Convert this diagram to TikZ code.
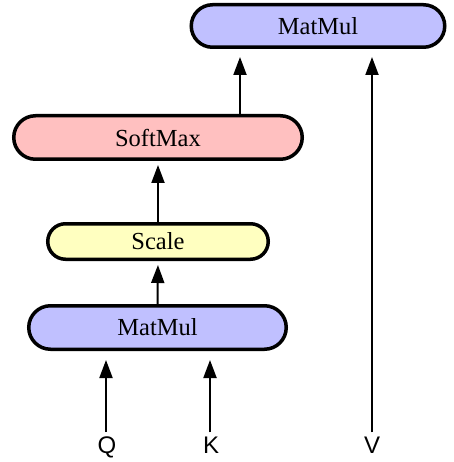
\documentclass[tikz,border=0pt]{standalone}
\usepackage{fontspec}
\setmainfont{Liberation Serif}
\newfontfamily\labelfont{Liberation Sans}
\usetikzlibrary{shapes.misc,arrows.meta}

\definecolor{opblue}{HTML}{C0C0FF}
\definecolor{oppink}{HTML}{FFC0C0}
\definecolor{opyellow}{HTML}{FFFFC0}

\tikzset{
  opbox/.style={rounded rectangle, draw=black, line width=3.5pt,
    inner sep=0pt, font=\fontsize{24.5}{28}\selectfont},
  flow/.style={line width=2pt, -{Triangle[length=18pt,width=13pt]}},
  inlabel/.style={inner sep=0pt, anchor=base, font=\labelfont\fontsize{24}{28}\selectfont}
}

\begin{document}
\begin{tikzpicture}[x=1pt,y=-1pt]
  \useasboundingbox (0,0) rectangle (453,462);

  % operation blocks
  \node[opbox, fill=opblue, minimum width=253.5pt, minimum height=42.5pt] (mmtop) at (318,26) {MatMul};
  \node[opbox, fill=oppink, minimum width=288.5pt, minimum height=43.5pt] (soft) at (158,137.5) {SoftMax};
  \node[opbox, fill=opyellow, minimum width=220.5pt, minimum height=35.5pt] (scale) at (158,241.5) {Scale};
  \node[opbox, fill=opblue, minimum width=257.5pt, minimum height=43.5pt] (mmbot) at (157.5,327.5) {MatMul};

  % inputs
  \node[inlabel] (q) at (107,453) {Q};
  \node[inlabel] (k) at (211,453) {K};
  \node[inlabel] (v) at (372,453) {V};

  % columns of the off-centre connectors
  \coordinate (cq) at (106,0);
  \coordinate (ck) at (210,0);
  \coordinate (cv) at (372,0);
  \coordinate (cs) at (240,0);

  % connectors
  \draw[flow, shorten <=4pt, shorten >=9pt] (q.north -| cq) -- (mmbot.south -| cq);
  \draw[flow, shorten <=4pt, shorten >=9pt] (k.north -| ck) -- (mmbot.south -| ck);
  \draw[flow, shorten <=4pt, shorten >=8pt] (v.north -| cv) -- (mmtop.south -| cv);
  \draw[flow, shorten >=4pt] (mmbot.north) -- (scale.south);
  \draw[flow, shorten >=4pt] (scale.north) -- (soft.south);
  \draw[flow, shorten >=8pt] (soft.north -| cs) -- (mmtop.south -| cs);
\end{tikzpicture}
\end{document}
